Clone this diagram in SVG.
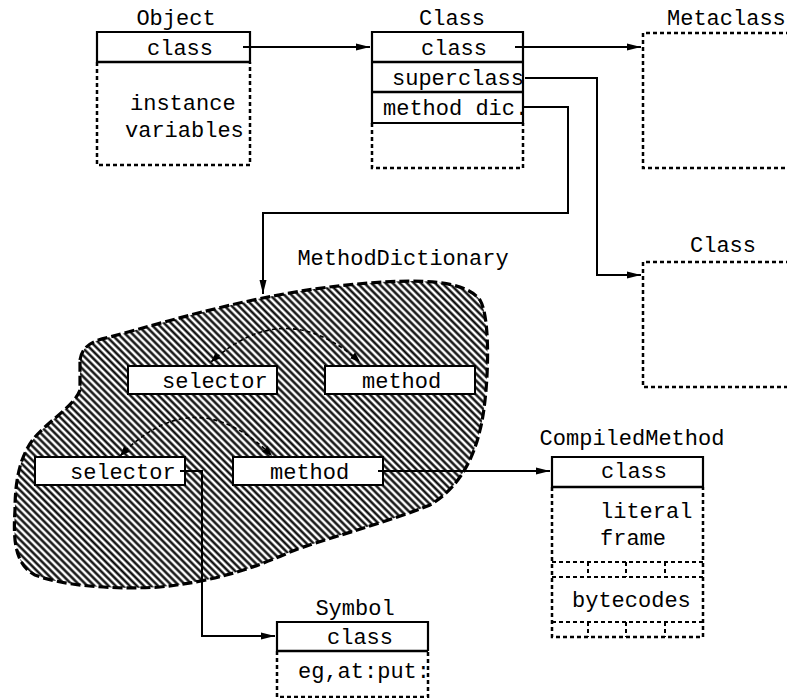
<svg xmlns="http://www.w3.org/2000/svg" width="787" height="698" viewBox="0 0 787 698">
<style>
.t{font-family:"Liberation Mono","Courier New",monospace;font-size:22px;fill:#000}
.m{text-anchor:middle}
.solid{fill:none;stroke:#000;stroke-width:2.2}
.sep{stroke:#000;stroke-width:2.6}
.dot{fill:none;stroke:#000;stroke-width:2.5;stroke-dasharray:4 3}
.grid{fill:none;stroke:#000;stroke-width:2;stroke-dasharray:4 3}
.conn{fill:none;stroke:#000;stroke-width:2}
.arc{fill:none;stroke:#000;stroke-width:1.6;stroke-dasharray:4 3}
.inner{fill:#fff;stroke:#000;stroke-width:2}
</style>
<defs>
<marker id="ah" viewBox="0 0 14 8" markerUnits="userSpaceOnUse" markerWidth="14" markerHeight="8" refX="14" refY="4" orient="auto">
<path d="M0,0.5 L14,4 L0,7.5 z" fill="#000"/>
</marker>
<marker id="ahs" viewBox="0 0 10 8" markerUnits="userSpaceOnUse" markerWidth="10" markerHeight="8" refX="10" refY="4" orient="auto-start-reverse">
<path d="M0,0 L10,4 L0,8 z" fill="#000"/>
</marker>
<pattern id="hatch" patternUnits="userSpaceOnUse" width="5" height="5" patternTransform="rotate(45)">
<rect width="5" height="5" fill="#fff"/>
<line x1="0" y1="2.5" x2="5" y2="2.5" stroke="#000" stroke-width="2.3"/>
</pattern>
</defs>

<g id="object">
<text class="t m" x="176" y="25">Object</text>
<path class="solid" d="M97 62 V32 H250 V62"/>
<line class="sep" x1="97" y1="62" x2="250" y2="62"/>
<path class="dot" d="M97 62 V165 H250 V62"/>
<text class="t m" x="180" y="55">class</text>
<text class="t" x="130" y="110">instance</text>
<text class="t" x="125" y="137">variables</text>
</g>

<g id="class">
<text class="t m" x="452" y="25">Class</text>
<path class="solid" d="M372 123 V32 H523 V123 Z"/>
<line class="sep" x1="372" y1="62" x2="523" y2="62"/>
<line class="sep" x1="372" y1="92" x2="523" y2="92"/>
<path class="dot" d="M372 123 V168 H523 V123"/>
<text class="t m" x="454" y="55">class</text>
<text class="t" x="392" y="85">superclass</text>
<text class="t" x="383" y="115">method dic.</text>
</g>

<g id="metaclass">
<text class="t" x="667" y="25">Metaclass</text>
<path class="dot" d="M790 33 H643 V168 H790"/>
</g>

<g id="class2">
<text class="t m" x="723" y="252">Class</text>
<path class="dot" d="M790 262 H643 V387 H790"/>
</g>

<g id="methodDictionary">
<text class="t m" x="403" y="265">MethodDictionary</text>
<path d="M80 360 C82 345 95 340 110 337 C180 318 270 290 370 283 C420 279 465 280 480 300 C492 320 488 400 480 430 C472 465 455 490 430 505 C380 525 320 540 290 552 C250 570 210 582 160 587 C110 590 60 585 35 575 C15 565 13 540 15 510 C15 480 20 455 35 437 C50 420 75 405 80 390 Z" fill="url(#hatch)" stroke="#000" stroke-width="3.2" stroke-dasharray="10 4"/>
<path class="arc" d="M211 362 Q285 295 360 362" marker-start="url(#ahs)" marker-end="url(#ahs)"/>
<path class="arc" d="M120 456 Q195 379 272 456" marker-start="url(#ahs)" marker-end="url(#ahs)"/>
<g id="selector1">
<rect class="inner" x="128" y="366" width="149" height="28"/>
<text class="t" x="162" y="388">selector</text>
</g>
<g id="method1">
<rect class="inner" x="325" y="366" width="150" height="28"/>
<text class="t" x="362" y="388">method</text>
</g>
<g id="selector2">
<rect class="inner" x="35" y="457" width="150" height="28"/>
<text class="t" x="70" y="479">selector</text>
</g>
<g id="method2">
<rect class="inner" x="233" y="457" width="150" height="28"/>
<text class="t" x="270" y="479">method</text>
</g>
</g>

<g id="compiledMethod">
<text class="t m" x="632" y="445">CompiledMethod</text>
<path class="solid" d="M552 487 V457 H703 V487"/>
<line class="sep" x1="552" y1="487" x2="703" y2="487"/>
<path class="dot" d="M552 487 V637 H703 V487"/>
<text class="t m" x="634" y="478">class</text>
<text class="t" x="600" y="518">literal</text>
<text class="t" x="600" y="545">frame</text>
<path class="grid" d="M552 562 H703 M552 577 H703 M552 622 H703 M588 562 V577 M626 562 V577 M665 562 V577 M588 622 V637 M626 622 V637 M665 622 V637"/>
<text class="t" x="572" y="607">bytecodes</text>
</g>

<g id="symbol">
<text class="t m" x="355" y="615">Symbol</text>
<path class="solid" d="M277 651 V622 H428 V651"/>
<line class="sep" x1="277" y1="651" x2="428" y2="651"/>
<path class="dot" d="M277 651 V697 H428 V651"/>
<text class="t m" x="360" y="644">class</text>
<text class="t" x="298" y="678">eg,at:put:</text>
</g>

<g id="connectors">
<path class="conn" d="M243 47 H370" marker-end="url(#ah)"/>
<path class="conn" d="M515 47 H641" marker-end="url(#ah)"/>
<path class="conn" d="M525 78 H597 V275 H641" marker-end="url(#ah)"/>
<path class="conn" d="M523 107 H568 V213 H263 V294" marker-end="url(#ah)"/>
<path class="conn" d="M180 471 H202 V636 H275" marker-end="url(#ah)"/>
<path class="conn" d="M378 471 H550" marker-end="url(#ah)"/>
</g>
</svg>
